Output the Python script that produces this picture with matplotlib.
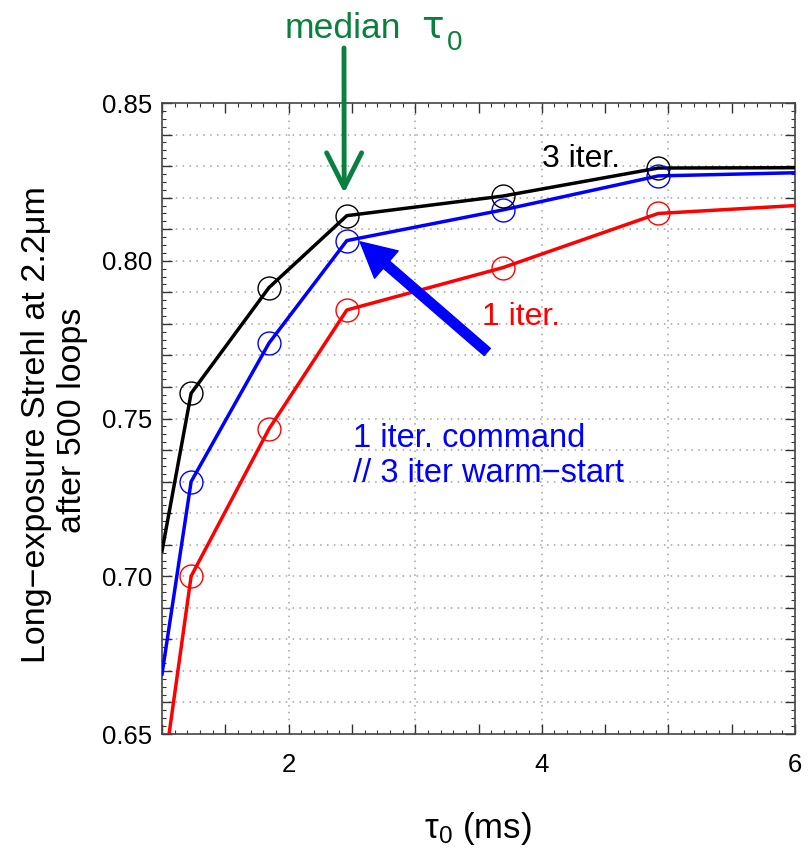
import matplotlib
matplotlib.use("Agg")
import matplotlib.pyplot as plt
from matplotlib.ticker import MultipleLocator, FuncFormatter
from matplotlib.patches import FancyArrowPatch

plt.rcParams['font.family'] = ['Liberation Sans', 'DejaVu Sans']
plt.rcParams['mathtext.fontset'] = 'custom'
plt.rcParams['mathtext.rm'] = 'Liberation Sans'
plt.rcParams['mathtext.it'] = 'Liberation Sans:italic'

# ---- data ----
tau_pts = [1.23, 1.845, 2.46, 3.69, 4.92]
strehl_3iter_pts = [0.758, 0.7915, 0.8143, 0.8205, 0.8294]
strehl_warm_pts = [0.730, 0.7739, 0.8064, 0.8161, 0.8269]
strehl_1iter_pts = [0.700, 0.7467, 0.7844, 0.7978, 0.8150]

tau_line = [1.0, 1.23, 1.845, 2.46, 3.69, 4.92, 6.0]
strehl_3iter_line = [0.708, 0.758, 0.7915, 0.8143, 0.8205, 0.8294, 0.8295]
strehl_warm_line = [0.669, 0.730, 0.7739, 0.8064, 0.8161, 0.8269, 0.8279]
strehl_1iter_line = [0.634, 0.700, 0.7467, 0.7844, 0.7978, 0.8150, 0.8175]

x_ticklabels = [2, 4, 6]
y_ticklabels = [0.65, 0.70, 0.75, 0.80, 0.85]

W, H = 810, 848
fig = plt.figure(figsize=(8.1, 8.48), dpi=100)
ax = fig.add_axes([0.2, 0.1344, 0.7815, 0.7441])

ax.set_xlim(1, 6)
ax.set_ylim(0.65, 0.85)

# grid (dotted)
grid_kw = dict(color='#a0a0a0', lw=1.1, ls=(0, (1, 3.5)), zorder=0)
for gx in range(2, 6):
    ax.axvline(gx, **grid_kw)
for i in range(1, 20):
    ax.axhline(0.65 + i * 0.01, **grid_kw)

series = [
    (strehl_1iter_line, strehl_1iter_pts, '#ff0000'),
    (strehl_warm_line, strehl_warm_pts, '#0000ff'),
    (strehl_3iter_line, strehl_3iter_pts, '#000000'),
]
for yl, yp, c in series:
    ax.plot(tau_line, yl, color=c, lw=2.5, zorder=3)
    ax.plot(tau_pts, yp, ls='none', marker='o', ms=16.5, mfc='none', mec=c, mew=1.0, zorder=4)

# ticks
ax.xaxis.set_major_locator(MultipleLocator(0.5))
ax.xaxis.set_minor_locator(MultipleLocator(0.1))
ax.xaxis.set_major_formatter(FuncFormatter(
    lambda v, p: f"{v:g}" if abs(v - round(v)) < 1e-6 and round(v) in x_ticklabels else ""))
ax.yaxis.set_major_locator(MultipleLocator(0.01))
ax.yaxis.set_minor_locator(MultipleLocator(0.0025))
ax.yaxis.set_major_formatter(FuncFormatter(
    lambda v, p: f"{v:.2f}" if any(abs(v - t) < 1e-6 for t in y_ticklabels) else ""))
ax.tick_params(which='both', direction='in', top=True, right=True, color='#333333')
ax.tick_params(which='major', length=7, width=1, labelsize=18.5)
ax.tick_params(axis='x', which='major', pad=14)
ax.tick_params(axis='y', which='major', pad=7)
ax.tick_params(which='minor', length=3, width=0.8)
for s in ax.spines.values():
    s.set_color('#444444')
    s.set_linewidth(1.2)

# axis labels
fig.text(478 / W, 1 - 838 / H, r"τ$_0$ (ms)", fontsize=25, ha='center', va='baseline')
fig.text(37 / W, 1 - 425 / H, "Long\u2212exposure Strehl at 2.2\u03bcm",
         fontsize=24.5, rotation=90, ha='center', va='center')
fig.text(72 / W, 1 - 420 / H, "after 500 loops",
         fontsize=24.5, rotation=90, ha='center', va='center')

# annotations
ax.text(4.004, 0.8297, "3 iter.", fontsize=23, color='black', va='baseline', ha='left')
ax.text(3.53, 0.7796, "1 iter.", fontsize=23, color='#ff0000', va='baseline', ha='left')
ax.text(2.51, 0.741, "1 iter. command", fontsize=23.5, color='#0000ff', va='baseline', ha='left')
ax.text(2.51, 0.7299, "// 3 iter warm\u2212start", fontsize=23.5, color='#0000ff', va='baseline', ha='left')

green = '#0a8040'
fig.text(285 / W, 1 - 38 / H, "median", fontsize=25.5, color=green, va='baseline', ha='left')
fig.text(421 / W, 1 - 38 / H, "\u03c4", fontsize=27, color=green, va='baseline', ha='left',
         family='DejaVu Sans')
fig.text(447 / W, 1 - 50 / H, "0", fontsize=20, color=green, va='baseline', ha='left')

ax.annotate("", xy=(2.439, 0.8215), xycoords='data',
            xytext=(344, H - 48), textcoords='figure pixels',
            arrowprops=dict(arrowstyle='->,head_length=1.25,head_width=0.63', lw=3.5,
                            color=green, mutation_scale=20, shrinkA=0, shrinkB=0),
            annotation_clip=False)

arr = FancyArrowPatch((3.569, 0.7711), (2.565, 0.806),
                      arrowstyle='simple,head_length=1.25,head_width=1.3,tail_width=0.34',
                      mutation_scale=20, color='#0000ff', shrinkA=0, shrinkB=0, zorder=6)
ax.add_patch(arr)

fig.savefig("out.png", dpi=100)
